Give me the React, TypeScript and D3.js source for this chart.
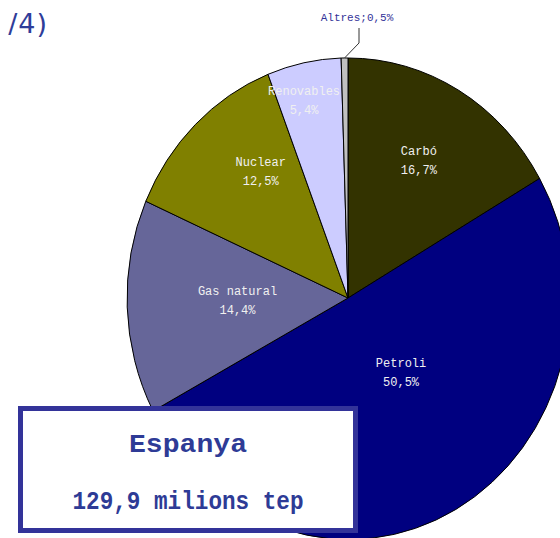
import React from 'react';
import { pie, arc, scaleLinear } from 'd3';

const categories = ['Carbó', 'Petroli', 'Gas natural', 'Nuclear', 'Renovables', 'Altres'];
const shares = [16.7, 50.5, 14.4, 12.5, 5.4, 0.5];
const colors = ['#333300', '#000080', '#666699', '#808000', '#ccccff', '#c0c0c0'];
// where each inside label sits: fraction of the radius and a small turn (degrees) off the mid angle
const labelRadius = [0.66, 0.39, 0.5, 0.66, 0.85, 0];
const labelTurn = [-1, -9, 1, 7, -2, 0];

const boxTitle = 'Espanya';
const boxTotal = '129,9 milions tep';

const W = 560;
const H = 538;
const cx = 348;
const cy = 298;
const rx = 221;
const ry = 240;

const fmt = (v: number) => v.toFixed(1).replace('.', ',') + '%';

export default function App() {
  const slices = pie<number>().sort(null).value((d) => d)(shares);
  const path = arc<any>().innerRadius(0).outerRadius(1);

  // unit circle -> stretched ellipse
  const x = scaleLinear().domain([-1, 1]).range([cx - rx, cx + rx]);
  const y = scaleLinear().domain([-1, 1]).range([cy + ry, cy - ry]);

  const last = slices[slices.length - 1];
  const lastMid = (last.startAngle + last.endAngle) / 2;
  const edgeX = x(Math.sin(lastMid));
  const edgeY = y(Math.cos(lastMid));

  return (
    <svg width={W} height={H} style={{ position: 'absolute', left: 0, top: 0 }}>
      <rect width={W} height={H} fill="#ffffff" />
      <text x={48} y={33} textAnchor="end" fontFamily="DejaVu Sans, Verdana, sans-serif" fontSize={27} fill="#2f3d99" letterSpacing={1}>
        /4)
      </text>

      <g transform={`translate(${cx},${cy}) scale(${rx},${ry})`}>
        {slices.map((s, i) => (
          <path
            key={categories[i]}
            d={path(s) as string}
            fill={colors[i]}
            stroke="#000000"
            strokeWidth={1}
            vectorEffect="non-scaling-stroke"
          />
        ))}
      </g>

      {slices.slice(0, -1).map((s, i) => {
        const a = (s.startAngle + s.endAngle) / 2 + (labelTurn[i] * Math.PI) / 180;
        const lx = x(labelRadius[i] * Math.sin(a));
        const ly = y(labelRadius[i] * Math.cos(a));
        return (
          <g key={categories[i]} fontFamily="Liberation Mono, monospace" fontSize={12} fill="#f0f0f0" textAnchor="middle">
            <text x={lx} y={ly - 5}>{categories[i]}</text>
            <text x={lx} y={ly + 14}>{fmt(shares[i])}</text>
          </g>
        );
      })}

      <polyline
        points={`359,28 359,43 ${edgeX},${edgeY}`}
        fill="none"
        stroke="#333333"
        strokeWidth={1}
      />
      <text x={357} y={21} textAnchor="middle" fontFamily="Liberation Mono, monospace" fontSize={11} fill="#333399">
        {`${categories[5]};${fmt(shares[5])}`}
      </text>

      <rect x={20.5} y={408.5} width={335} height={122} fill="#ffffff" stroke="#333399" strokeWidth={5} />
      <text x={188} y={452} textAnchor="middle" fontFamily="Liberation Mono, monospace" fontWeight="bold" fontSize={26} fill="#2e3b96" textLength={118} lengthAdjust="spacingAndGlyphs">
        {boxTitle}
      </text>
      <text x={188} y={509} textAnchor="middle" fontFamily="Liberation Mono, monospace" fontWeight="bold" fontSize={26} fill="#2e3b96" textLength={231} lengthAdjust="spacingAndGlyphs">
        {boxTotal}
      </text>
    </svg>
  );
}
